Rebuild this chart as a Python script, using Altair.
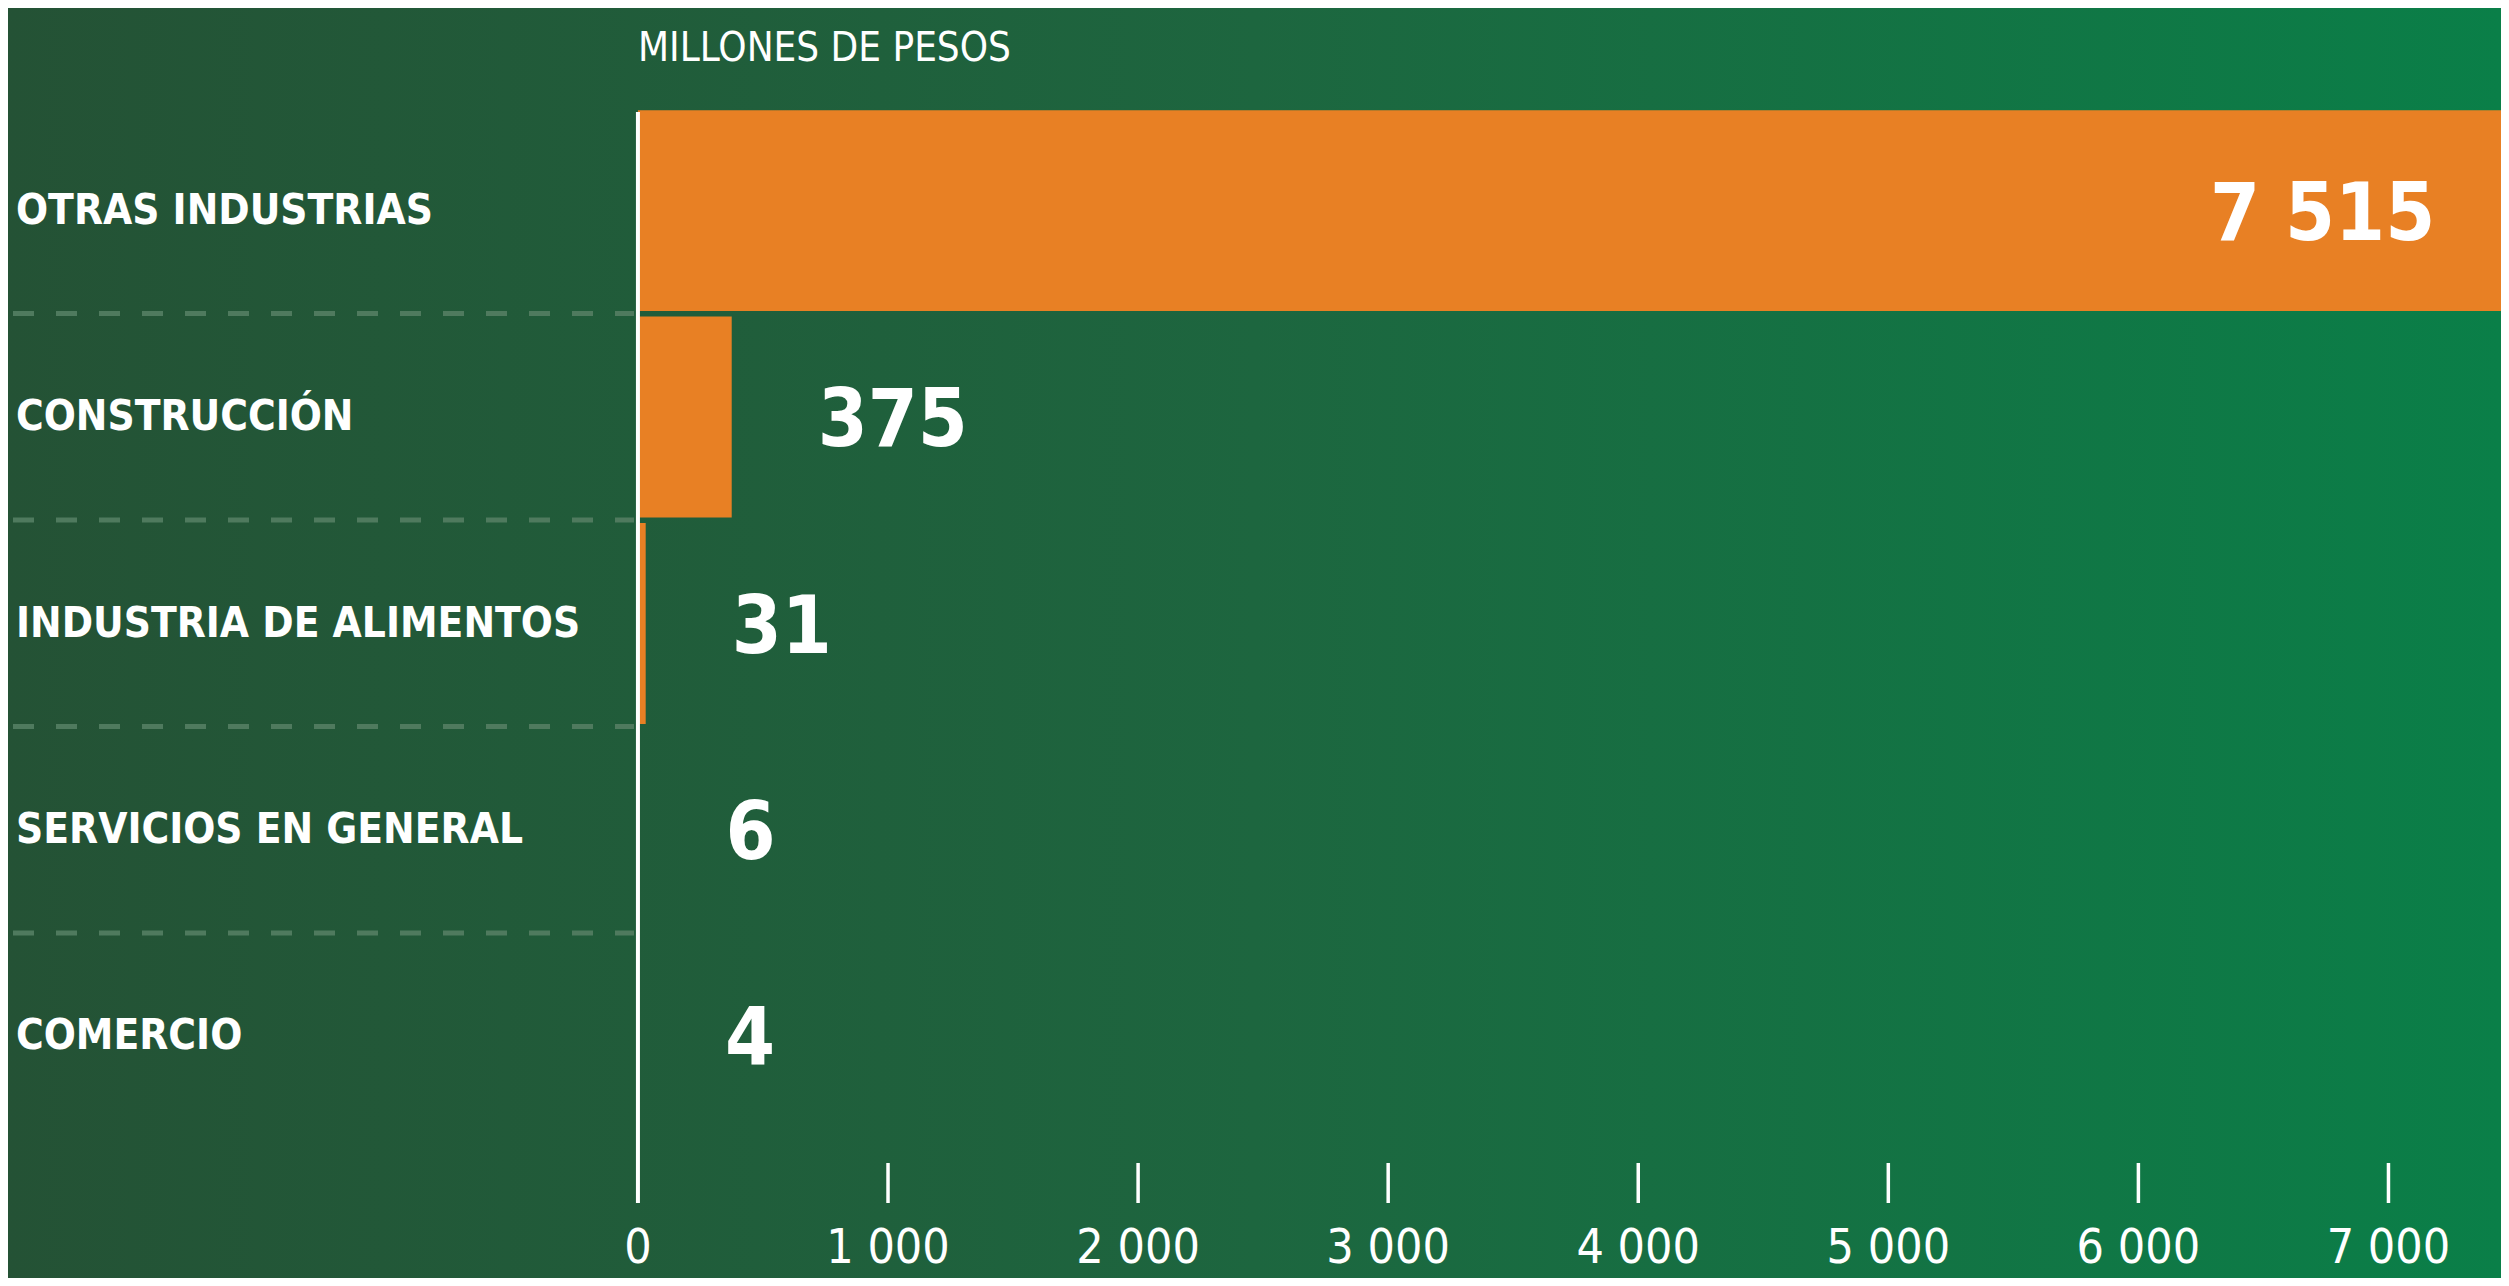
import altair as alt
import pandas as pd

categories = ["OTRAS INDUSTRIAS", "CONSTRUCCIÓN", "INDUSTRIA DE ALIMENTOS",
              "SERVICIOS EN GENERAL", "COMERCIO"]
values = [7515, 375, 31, 6, 4]
value_labels = ["7 515", "375", "31", "6", "4"]
tick_values = [0, 1000, 2000, 3000, 4000, 5000, 6000, 7000]
tick_labels = ["0", "1 000", "2 000", "3 000", "4 000", "5 000", "6 000", "7 000"]
unit_title = "MILLONES DE PESOS"

W, H = 2493, 1270
FONT_N = "DejaVu Sans Condensed, sans-serif"

bars_df = pd.DataFrame({"cat": categories, "value": values, "label": value_labels})
sep_df = pd.DataFrame({"cat": categories[:-1]})
tick_df = pd.DataFrame({"v": tick_values, "label": tick_labels})
zero_df = pd.DataFrame({"v": [0]})
title_df = pd.DataFrame({"t": [unit_title]})

# left part of the x domain is the room for the category labels
x_scale = alt.Scale(domain=[-2519, 7450], nice=False, zero=False)
y_scale = alt.Scale(domain=categories, paddingInner=0.027, paddingOuter=0.589, align=0.42)


def X(f):
    return alt.X(f, type="quantitative", scale=x_scale, axis=None)


def Y():
    return alt.Y("cat:N", scale=y_scale, axis=None)


gradient = alt.LinearGradient(
    gradient="linear",
    stops=[
        alt.GradientStop(offset=0, color="#245235"),
        alt.GradientStop(offset=0.5, color="#1d663f"),
        alt.GradientStop(offset=1, color="#0a7f48"),
    ],
    x1=0, x2=1, y1=0, y2=0,
)

bg = alt.Chart(title_df).mark_rect(fill=gradient).encode(
    x=alt.value(0), x2=alt.value(W), y=alt.value(0), y2=alt.value(H)
)

seps = alt.Chart(sep_df).mark_rule(
    color="#4f7a5e", strokeWidth=5, strokeDash=[21, 22], yOffset=103
).encode(
    y=Y(), x=alt.value(5), x2=alt.value(626)
)

bars = alt.Chart(bars_df).mark_bar(color="#e88024", clip=True).encode(
    x=X("value"), y=Y()
)

zero_line = alt.Chart(zero_df).mark_rule(color="white", strokeWidth=4).encode(
    x=X("v"), y=alt.value(104), y2=alt.value(1195)
)

ticks = alt.Chart(tick_df).transform_filter("datum.v > 0").mark_rule(
    color="white", strokeWidth=3.5
).encode(x=X("v"), y=alt.value(1155), y2=alt.value(1195))

tick_text = alt.Chart(tick_df).mark_text(
    font=FONT_N, fontSize=48, color="white", baseline="middle", align="center"
).encode(x=X("v"), y=alt.value(1241), text="label:N")

cat_text = alt.Chart(bars_df).mark_text(
    font=FONT_N, fontSize=42, fontWeight="bold", color="white",
    align="left", baseline="middle"
).encode(x=alt.value(8), y=Y(), text="cat:N")

val_out = alt.Chart(bars_df).transform_filter("datum.value < 3000").mark_text(
    font=FONT_N, fontSize=80, fontWeight="bold", color="white",
    align="left", baseline="middle", dx=86, dy=5
).encode(x=X("value"), y=Y(), text="label:N")

val_in = alt.Chart(bars_df).transform_filter("datum.value >= 3000").mark_text(
    font=FONT_N, fontSize=80, fontWeight="bold", color="white",
    align="right", baseline="middle", dx=-82, dy=5
).encode(x=X("value"), y=Y(), text="label:N")

title_text = alt.Chart(title_df).mark_text(
    font=FONT_N, fontSize=40, color="white", align="left", baseline="middle"
).encode(x=alt.value(630), y=alt.value(41), text="t:N")

chart = alt.layer(
    bg, seps, bars, zero_line, ticks, tick_text, cat_text, val_out, val_in, title_text
).properties(
    width=W, height=H, autosize=alt.AutoSizeParams(type="none"), padding=0,
    background="#245235"
).configure_view(stroke=None)

chart.save("out.html", embed_options={"renderer": "svg", "actions": False})
